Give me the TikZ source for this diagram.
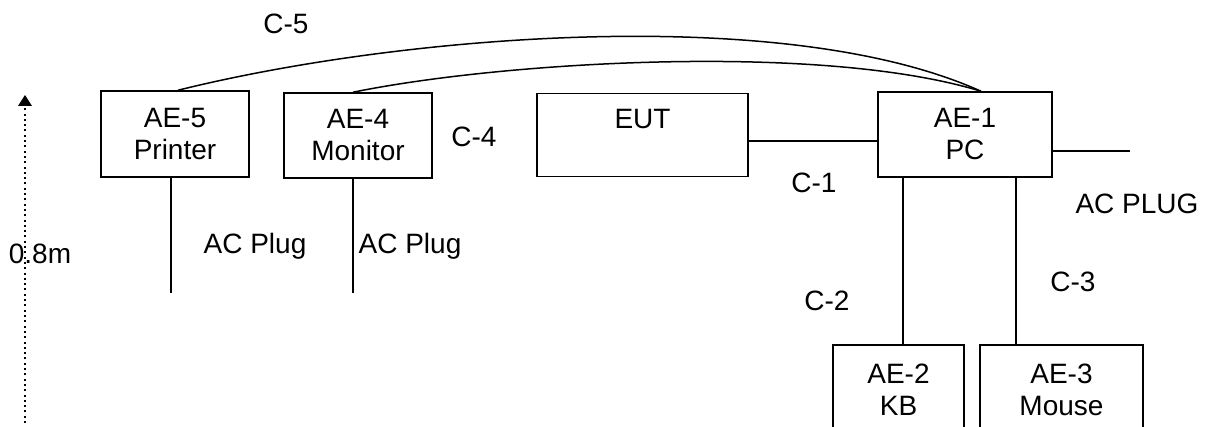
\documentclass[tikz,border=0pt]{standalone}
\usepackage{fontspec}
\setmainfont{Liberation Sans}
\usetikzlibrary{arrows.meta}
\begin{document}
\begin{tikzpicture}[x=1pt,y=-1pt,
  line width=1.5pt,
  unit/.style={draw, line width=1.5pt, inner sep=0pt, align=center,
    font=\fontsize{28}{32}\selectfont},
  lbl/.style={font=\fontsize{28}{32}\selectfont, inner sep=0pt},
  cable/.style={line width=1.5pt},
  height/.style={line width=2pt, dash pattern=on 2pt off 3.3pt}]
\useasboundingbox (0,0) rectangle (1209,427);
\clip (0,0) rectangle (1209,427);

% equipment boxes
\node[unit, minimum width=148pt, minimum height=86pt] (ae5) at (175,134) {AE-5\\Printer};
\node[unit, minimum width=148pt, minimum height=85pt] (ae4) at (358,135.5) {AE-4\\Monitor};
\node[unit, minimum width=211pt, minimum height=83pt] (eut) at (642.5,135) {EUT\\~};
\node[unit, minimum width=174pt, minimum height=85pt] (ae1) at (965,134.5) {AE-1\\PC};
\node[unit, minimum width=131pt, minimum height=90pt] (ae2) at (898.5,390) {AE-2\\KB};
\node[unit, minimum width=163pt, minimum height=90pt] (ae3) at (1061.5,390) {AE-3\\Mouse};

% free cable ends
\coordinate (plug5) at (171,293);
\coordinate (plug4) at (353,293);
\coordinate (plug1) at (1130,151);
\coordinate (pcin) at ([xshift=16pt]ae1.north);
\coordinate (hbot) at (25,423);
\coordinate (htop) at (25,95);

% cables
\draw[cable] (eut.east |- 0,141) -- (ae1.west |- 0,141);
\draw[cable] (ae1.east |- 0,151) -- (plug1);
\draw[cable] (ae1.south -| 903,0) -- (ae2.north -| 903,0);
\draw[cable] (ae1.south -| 1016,0) -- (ae3.north -| 1016,0);
\draw[cable] (ae5.south -| plug5) -- (plug5);
\draw[cable] (ae4.south -| plug4) -- (plug4);
\draw[cable] ([xshift=3pt]ae5.north) .. controls (400,35) and (785,3) .. (pcin);
\draw[cable] ([xshift=-5pt]ae4.north) .. controls (500,62) and (820,42) .. (pcin);

% table height marker
\draw[height, -{Triangle[width=14pt,length=11pt,line width=0pt]}] (hbot) -- (htop);

% labels
\node[lbl] (c5) at (286,24) {C-5};
\node[lbl] (c4) at (474,137) {C-4};
\node[lbl] (c1) at (814,183) {C-1};
\node[lbl] (acpc) at (1137,204) {AC PLUG};
\node[lbl] (acp5) at (255,246) {AC Plug};
\node[lbl] (acp4) at (410,246) {AC Plug};
\node[lbl] (hgt) at (40,254) {0.8m};
\node[lbl] (c2) at (827,301) {C-2};
\node[lbl] (c3) at (1073,282) {C-3};
\end{tikzpicture}
\end{document}
